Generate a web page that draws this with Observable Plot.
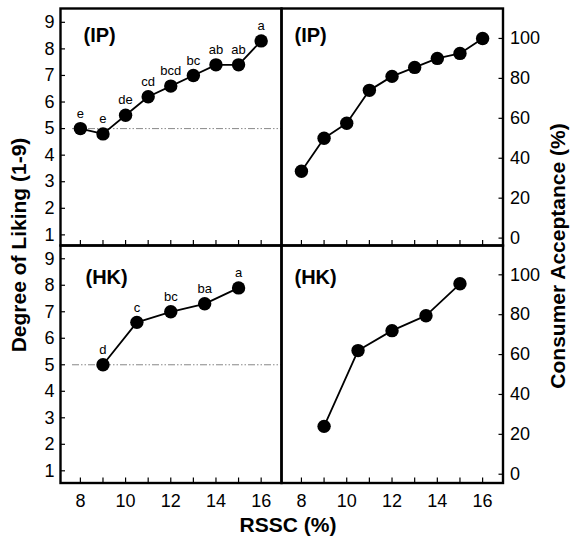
<!DOCTYPE html>
<html><head><meta charset="utf-8">
<script src="https://cdn.jsdelivr.net/npm/d3@7"></script>
<script src="https://cdn.jsdelivr.net/npm/@observablehq/plot@0.6"></script>
<style>
body{margin:0;background:#fff;}
#wrap{position:relative;width:571px;height:538px;font-family:"Liberation Sans",Arial,Helvetica,sans-serif;}
#wrap svg{position:absolute;left:0;top:0;}
.title{position:absolute;font-weight:bold;font-size:21px;line-height:1;white-space:nowrap;color:#000;transform:translate(-50%,-50%);}
.rot{transform:translate(-50%,-50%) rotate(-90deg);}
</style></head><body><div id="wrap"></div>
<script>
const ipRSSC = [8, 9, 10, 11, 12, 13, 14, 15, 16];
const ipLiking = [5.0, 4.8, 5.5, 6.2, 6.6, 7.0, 7.4, 7.4, 8.3];
const ipLetters = ["e", "e", "de", "cd", "bcd", "bc", "ab", "ab", "a"];
const ipAcceptance = [33.5, 50, 57.5, 74, 81, 85.5, 90, 92.5, 100];
const hkRSSC = [9, 10.5, 12, 13.5, 15];
const hkLiking = [5.0, 6.6, 7.0, 7.3, 7.9];
const hkLetters = ["d", "c", "bc", "ba", "a"];
const hkAcceptance = [24, 62, 72, 79.5, 95.5];
const panelLabels = ["(IP)", "(HK)"];
const xTicks = [8, 9, 10, 11, 12, 13, 14, 15, 16];
const xLabels = [8, 10, 12, 14, 16];
const likingTicks = [1, 2, 3, 4, 5, 6, 7, 8, 9];
const acceptTicks = [0, 20, 40, 60, 80, 100];
const neutral = 5;
const xTitle = "RSSC (%)";
const yLeftTitle = "Degree of Liking (1-9)";
const yRightTitle = "Consumer Acceptance (%)";

const W = 571, H = 538;
const FONT = '"Liberation Sans", Arial, Helvetica, sans-serif';
const wrap = document.getElementById("wrap");

function rows(xs, ys, letters) {
  return xs.map((x, i) => ({x, y: ys[i], t: letters ? letters[i] : ""}));
}

function panel(o) {
  const left = o.anchor === "left";
  const marks = [];
  if (o.ref) {
    marks.push(Plot.ruleY([neutral], {stroke: "#888", strokeWidth: 1, strokeDasharray: "7,2,1.5,2,1.5,2", insetLeft: 12}));
  }
  marks.push(
    Plot.axisX({ticks: xTicks, tickSize: 5, dy: -5, tickFormat: () => "", label: null, strokeWidth: 1.2}),
    Plot.axisY({anchor: o.anchor, ticks: o.yTicks, tickSize: 5, dx: left ? 5 : -5, tickFormat: () => "", label: null, strokeWidth: 1.2}),
    Plot.axisY({anchor: o.anchor, ticks: o.yTicks, tickSize: 0, tickPadding: left ? 6 : 7, label: null, fontSize: 18})
  );
  if (o.xLabels) {
    marks.push(Plot.axisX({ticks: xLabels, tickSize: 0, tickPadding: 11, label: null, fontSize: 18}));
  }
  marks.push(
    Plot.line(o.data, {x: "x", y: "y", stroke: "black", strokeWidth: 1.8}),
    Plot.dot(o.data, {x: "x", y: "y", r: 6.7, fill: "black", stroke: "none"})
  );
  if (o.letters) {
    marks.push(Plot.text(o.data, {x: "x", y: "y", text: "t", dy: -15, fontSize: 13}));
  }
  marks.push(
    Plot.text([o.label], {frameAnchor: "top-left", textAnchor: "start", lineAnchor: "top", dx: o.ldx, dy: o.ldy, fontWeight: "bold", fontSize: 20}),
    Plot.frame({stroke: "black", strokeWidth: 2.4})
  );
  const svg = Plot.plot({
    width: W, height: H,
    marginLeft: o.l, marginRight: W - o.r, marginTop: o.t, marginBottom: H - o.b,
    x: {domain: [7.12, 16.9]},
    y: {domain: o.yDomain},
    style: {background: "transparent", overflow: "visible", fontFamily: FONT, fontSize: "18px", color: "black"},
    marks
  });
  wrap.appendChild(svg);
}

const L0 = 60, L1 = 281, R1 = 502.5, T0 = 8, T1 = 245, B1 = 482.5;
panel({l: L0, r: L1, t: T0, b: T1, anchor: "left", yTicks: likingTicks, yDomain: [0.6, 9.52],
  data: rows(ipRSSC, ipLiking, ipLetters), letters: true, ref: true, label: panelLabels[0], ldx: 23, ldy: 19, xLabels: false});
panel({l: L1, r: R1, t: T0, b: T1, anchor: "right", yTicks: acceptTicks, yDomain: [-3.7, 115],
  data: rows(ipRSSC, ipAcceptance), letters: false, ref: false, label: panelLabels[0], ldx: 13, ldy: 19, xLabels: false});
panel({l: L0, r: L1, t: T1, b: B1, anchor: "left", yTicks: likingTicks, yDomain: [0.54, 9.5],
  data: rows(hkRSSC, hkLiking, hkLetters), letters: true, ref: true, label: panelLabels[1], ldx: 25, ldy: 24, xLabels: true});
panel({l: L1, r: R1, t: T1, b: B1, anchor: "right", yTicks: acceptTicks, yDomain: [-4.4, 114.7],
  data: rows(hkRSSC, hkAcceptance), letters: false, ref: false, label: panelLabels[1], ldx: 13, ldy: 24, xLabels: true});

function title(text, x, y, rot) {
  const d = document.createElement("div");
  d.className = "title" + (rot ? " rot" : "");
  d.textContent = text;
  d.style.left = x + "px";
  d.style.top = y + "px";
  wrap.appendChild(d);
}
title(xTitle, 288, 524, false);
title(yLeftTitle, 18, 245, true);
title(yRightTitle, 557, 256, true);
</script></body></html>
